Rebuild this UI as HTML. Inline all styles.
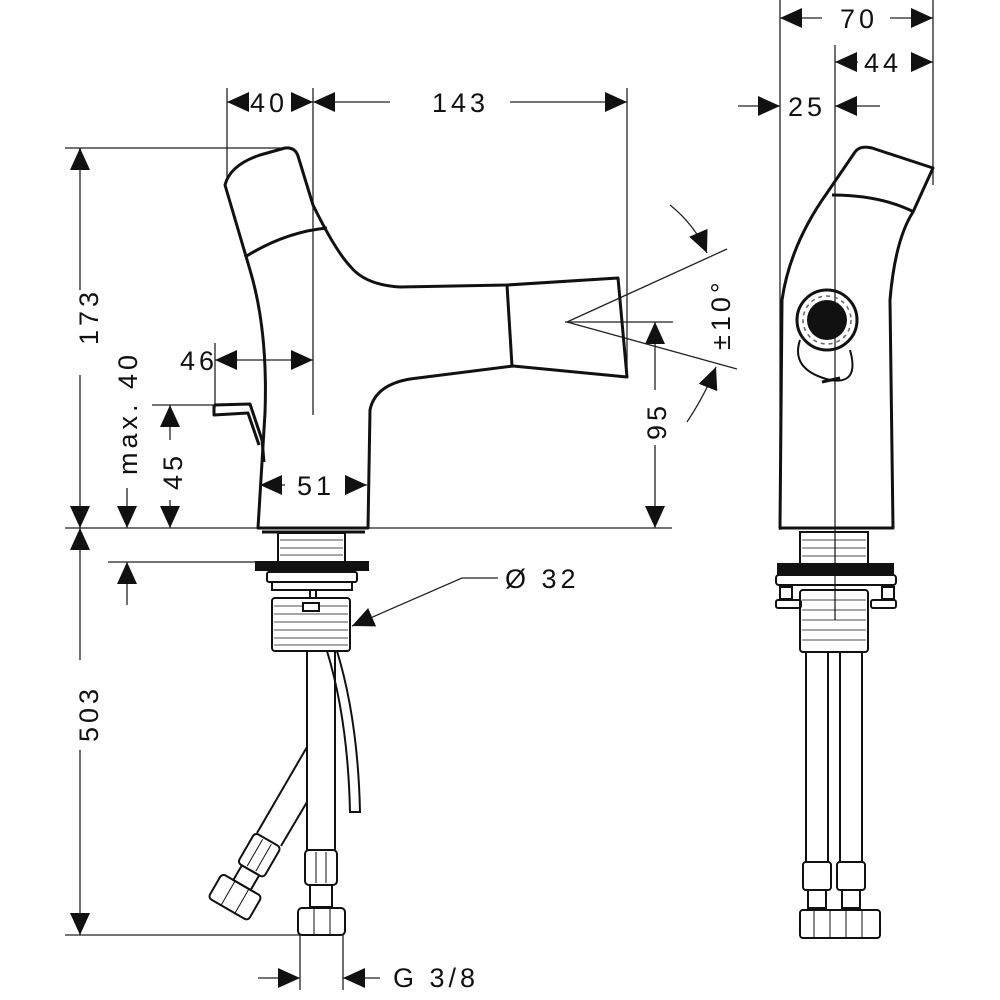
<!DOCTYPE html>
<html><head><meta charset="utf-8"><style>
html,body{margin:0;padding:0;background:#fff;}
svg{display:block;}
text{font-family:"Liberation Sans",sans-serif;font-size:27px;fill:#111;letter-spacing:4px;}
</style></head><body>
<svg width="1000" height="1000" viewBox="0 0 1000 1000" xmlns="http://www.w3.org/2000/svg">
<defs>
<marker id="a" viewBox="0 0 22 20" refX="22" refY="10" markerWidth="22" markerHeight="20" markerUnits="userSpaceOnUse" orient="auto"><path d="M0,0 L22,10 L0,20 Z" fill="#111"/></marker>
</defs>
<g stroke="#222" stroke-width="1.3" fill="none">
<line x1="227" y1="88" x2="227" y2="180"/>
<line x1="313" y1="88" x2="313" y2="415"/>
<line x1="627" y1="88" x2="627" y2="378"/>
<line x1="65" y1="148" x2="288" y2="148"/>
<line x1="65" y1="528" x2="672" y2="528"/>
<line x1="108" y1="562" x2="262" y2="562"/>
<line x1="152" y1="405" x2="215" y2="405"/>
<line x1="215" y1="343" x2="215" y2="408"/>
<line x1="565" y1="322" x2="673" y2="322"/>
<line x1="65" y1="935" x2="300" y2="935"/>
<line x1="300" y1="935" x2="300" y2="990"/>
<line x1="343" y1="935" x2="343" y2="990"/>
<line x1="780" y1="0" x2="780" y2="530"/>
<line x1="835" y1="45" x2="835" y2="620"/>
<line x1="933" y1="0" x2="933" y2="185"/>
<line x1="249" y1="102" x2="227" y2="102" marker-end="url(#a)"/>
<line x1="291" y1="102" x2="313" y2="102" marker-end="url(#a)"/>
<line x1="390" y1="102" x2="313" y2="102" marker-end="url(#a)"/>
<line x1="510" y1="102" x2="627" y2="102" marker-end="url(#a)"/>
<line x1="80" y1="290" x2="80" y2="148" marker-end="url(#a)"/>
<line x1="80" y1="375" x2="80" y2="528" marker-end="url(#a)"/>
<line x1="80" y1="660" x2="80" y2="528" marker-end="url(#a)"/>
<line x1="80" y1="750" x2="80" y2="935" marker-end="url(#a)"/>
<line x1="127" y1="488" x2="127" y2="528" marker-end="url(#a)"/>
<line x1="127" y1="605" x2="127" y2="562" marker-end="url(#a)"/>
<line x1="170" y1="440" x2="170" y2="405" marker-end="url(#a)"/>
<line x1="170" y1="500" x2="170" y2="528" marker-end="url(#a)"/>
<line x1="260" y1="360" x2="215" y2="360" marker-end="url(#a)"/>
<line x1="260" y1="360" x2="313" y2="360" marker-end="url(#a)"/>
<line x1="285" y1="485" x2="260" y2="485" marker-end="url(#a)"/>
<line x1="345" y1="485" x2="367" y2="485" marker-end="url(#a)"/>
<line x1="655" y1="390" x2="655" y2="322" marker-end="url(#a)"/>
<line x1="655" y1="445" x2="655" y2="528" marker-end="url(#a)"/>
<line x1="567" y1="322" x2="727" y2="249"/>
<line x1="567" y1="322" x2="737" y2="369"/>
<path d="M670,205 Q695,225 707,253" marker-end="url(#a)"/>
<path d="M687,422 Q705,395 716,367" marker-end="url(#a)"/>
<path d="M498,578 L462,578 L352,626" marker-end="url(#a)"/>
<line x1="258" y1="978" x2="300" y2="978" marker-end="url(#a)"/>
<line x1="380" y1="978" x2="343" y2="978" marker-end="url(#a)"/>
<line x1="822" y1="18" x2="780" y2="18" marker-end="url(#a)"/>
<line x1="890" y1="18" x2="933" y2="18" marker-end="url(#a)"/>
<line x1="858" y1="62" x2="835" y2="62" marker-end="url(#a)"/>
<line x1="911" y1="62" x2="933" y2="62" marker-end="url(#a)"/>
<line x1="738" y1="106" x2="780" y2="106" marker-end="url(#a)"/>
<line x1="880" y1="106" x2="835" y2="106" marker-end="url(#a)"/>
</g>

<g stroke="#111" stroke-width="3" fill="none" stroke-linejoin="round">
<path d="M225,185 Q230,165 260,155 L285,148 Q295,147 298,156 L313,205 Q335,250 350,266 Q365,285 400,287 L507,285 L618,278 L627,377 L513,366 L410,379 Q375,385 370,410 L368,528 L258,528 L265,413 Q268,330 250,270 Z"/>
<path d="M245,257 Q285,232 327,228"/>
<path d="M507,285 L512,366"/>
<path d="M262,532 L365,532"/>
<path d="M214,405 L250,404 L262,440 L264,462 M214,405 L214,415 L248,413 L259,445"/>
</g>
<g stroke="#111" stroke-width="2" fill="none">
<rect x="278" y="533" width="67" height="29"/>
<line x1="280" y1="540" x2="343" y2="540" stroke-width="0.8"/>
<line x1="280" y1="548" x2="343" y2="548" stroke-width="0.8"/>
<line x1="280" y1="555" x2="343" y2="555" stroke-width="0.8"/>
<rect x="256" y="562" width="112" height="8" fill="#111"/>
<rect x="267" y="572" width="90" height="10" rx="2"/>
<rect x="272" y="582" width="80" height="8"/>
<rect x="272" y="598" width="78" height="53" rx="3"/>
<g stroke-width="0.8"><line x1="274" y1="606" x2="348" y2="606"/><line x1="274" y1="614" x2="348" y2="614"/><line x1="274" y1="622" x2="348" y2="622"/><line x1="274" y1="630" x2="348" y2="630"/><line x1="274" y1="638" x2="348" y2="638"/><line x1="274" y1="645" x2="348" y2="645"/></g>
<rect x="303" y="603" width="16" height="8" fill="#fff"/>
<rect x="310" y="590" width="6" height="8"/>
<path d="M327,651 Q348,720 350,812 L360,812 Q358,720 337,651"/>
<path d="M307,651 L307,850 M335,651 L335,850"/>
<rect x="305" y="850" width="32" height="35" rx="4"/>
<line x1="316" y1="852" x2="316" y2="883" stroke-width="1"/><line x1="326" y1="852" x2="326" y2="883" stroke-width="1"/>
<rect x="310" y="885" width="22" height="22"/>
<rect x="298" y="908" width="47" height="27" rx="4"/>
<line x1="314" y1="908" x2="314" y2="935" stroke-width="1"/><line x1="330" y1="908" x2="330" y2="935" stroke-width="1"/>
<line x1="307" y1="747" x2="257" y2="833"/>
<line x1="307" y1="802" x2="281" y2="846"/>
<g transform="translate(268,840) rotate(30)">
<rect x="-15" y="0" width="30" height="35" rx="4"/>
<line x1="-5" y1="2" x2="-5" y2="33" stroke-width="1"/><line x1="5" y1="2" x2="5" y2="33" stroke-width="1"/>
<rect x="-10" y="35" width="20" height="17"/>
<rect x="-23" y="52" width="46" height="28" rx="4"/>
<line x1="-8" y1="52" x2="-8" y2="80" stroke-width="1"/><line x1="8" y1="52" x2="8" y2="80" stroke-width="1"/>
</g>
</g>

<g stroke="#111" stroke-width="3" fill="none" stroke-linejoin="round">
<path d="M780,528 L782,300 Q790,245 827,193 L855,152 Q860,145 872,148 L933,168 L913,212 Q895,240 890,300 L893,528 Z"/>
<path d="M832,195 Q880,195 914,212"/>
<circle cx="827" cy="320" r="30"/>
<path d="M800,340 Q790,370 830,380 Q860,385 850,350" stroke-width="2"/>
<path d="M822,382 L840,378" stroke-width="3"/>
<circle cx="827" cy="320" r="20" fill="#111" stroke="none"/>
<circle cx="827" cy="320" r="24" stroke="#666" stroke-width="1.5" stroke-dasharray="4 4"/>
</g>
<g stroke="#111" stroke-width="2" fill="none">
<rect x="800" y="532" width="68" height="32"/>
<g stroke-width="0.8"><line x1="802" y1="540" x2="866" y2="540"/><line x1="802" y1="548" x2="866" y2="548"/><line x1="802" y1="556" x2="866" y2="556"/></g>
<rect x="778" y="564" width="115" height="10" fill="#111"/>
<rect x="776" y="575" width="120" height="10" rx="3"/>
<rect x="780" y="587" width="12" height="12"/><rect x="882" y="587" width="12" height="12"/>
<rect x="776" y="600" width="25" height="8" rx="2"/><rect x="871" y="600" width="25" height="8" rx="2"/>
<rect x="800" y="590" width="68" height="62" rx="3"/>
<g stroke-width="0.8"><line x1="802" y1="600" x2="866" y2="600"/><line x1="802" y1="610" x2="866" y2="610"/><line x1="802" y1="620" x2="866" y2="620"/><line x1="802" y1="630" x2="866" y2="630"/><line x1="802" y1="640" x2="866" y2="640"/></g>
<path d="M806,652 L806,862 M828,652 L828,862 M840,652 L840,862 M862,652 L862,862"/>
<rect x="803" y="862" width="28" height="28" rx="3"/>
<rect x="837" y="862" width="28" height="28" rx="3"/>
<rect x="808" y="890" width="18" height="18"/><rect x="842" y="890" width="18" height="18"/>
<rect x="800" y="910" width="80" height="28" rx="3"/>
<line x1="814" y1="910" x2="814" y2="938" stroke-width="1"/><line x1="830" y1="910" x2="830" y2="938" stroke-width="1"/><line x1="846" y1="910" x2="846" y2="938" stroke-width="1"/><line x1="862" y1="910" x2="862" y2="938" stroke-width="1"/>
</g>

<text x="250" y="112">40</text>
<text x="432" y="112">143</text>
<text x="180" y="370">46</text>
<text x="297" y="495">51</text>
<text x="505" y="588">Ø 32</text>
<text x="393" y="987">G 3/8</text>
<text x="840" y="28">70</text>
<text x="864" y="72">44</text>
<text x="788" y="116">25</text>
<text transform="translate(98,345) rotate(-90)">173</text>
<text transform="translate(98,742) rotate(-90)">503</text>
<text transform="translate(137,475) rotate(-90)">max. 40</text>
<text transform="translate(182,490) rotate(-90)">45</text>
<text transform="translate(666,440) rotate(-90)">95</text>
<text transform="translate(730,350) rotate(-90)">±10°</text>
</svg>
</body></html>
